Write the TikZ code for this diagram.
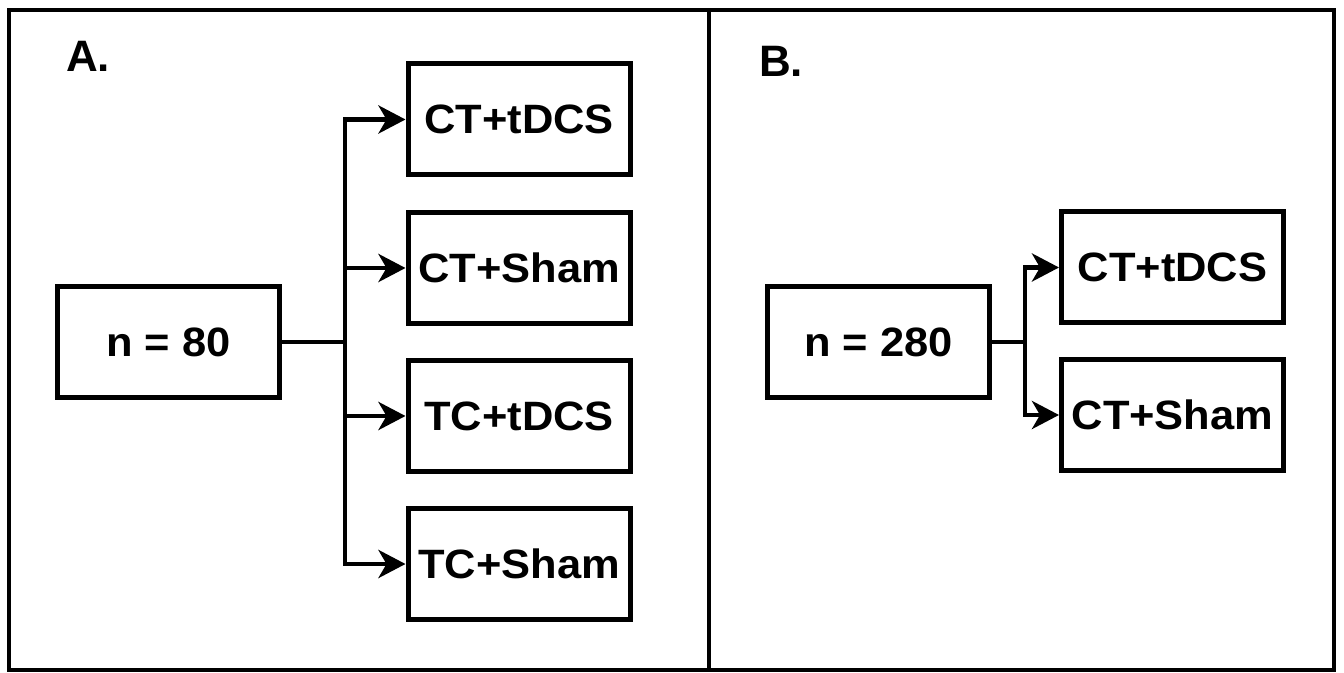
\documentclass[tikz,border=0pt]{standalone}
\usepackage{fontspec}
\setmainfont{Liberation Sans}
\usetikzlibrary{arrows.meta}
\newcommand{\wtxt}[1]{\scalebox{1.06}[1]{#1}}
\tikzset{
  frame/.style={line width=2.3pt},
  box/.style={draw, line width=2.5pt, minimum width=111pt, minimum height=55.5pt, inner sep=0pt,
    font=\fontsize{20.5}{23}\selectfont\bfseries},
  lab/.style={inner sep=0pt, font=\fontsize{22}{24}\selectfont\bfseries},
  conn/.style={line width=2.4pt},
  arr/.style={line width=2.4pt, -{Stealth[length=13.5pt,width=14pt,inset=4pt]}}
}
\begin{document}
\begin{tikzpicture}[x=0.5pt,y=-0.5pt]
\useasboundingbox (0,0) rectangle (1344,673);
% frame
\draw[frame] (9,10) rectangle (1334,670);
\draw[frame] (709,10) -- (709,670);
% labels
\node[lab] (la) at (88,56) {A.};
\node[lab] (lb) at (781,61) {B.};
% panel A
\node[box] (n80) at (168.5,342) {\wtxt{n = 80}};
\node[box] (a1) at (519,119.5) {\wtxt{CT+tDCS}};
\node[box] (a2) at (519,268) {\wtxt{CT+Sham}};
\node[box] (a3) at (519,416) {\wtxt{TC+tDCS}};
\node[box] (a4) at (519,564) {\wtxt{TC+Sham}};
\coordinate (ja) at (345,342);
\draw[conn] (n80.east) -- (ja);
\draw[arr] (ja) |- (a1.west);
\draw[arr] (ja) |- (a2.west);
\draw[arr] (ja) |- (a3.west);
\draw[arr] (ja) |- (a4.west);
% panel B
\node[box] (n280) at (878.5,342) {\wtxt{n = 280}};
\node[box] (b1) at (1172.5,267.5) {\wtxt{CT+tDCS}};
\node[box] (b2) at (1172.5,415) {\wtxt{CT+Sham}};
\coordinate (jb) at (1025,342);
\draw[conn] (n280.east) -- (jb);
\draw[arr] (jb) |- (b1.west);
\draw[arr] (jb) |- (b2.west);
\end{tikzpicture}
\end{document}
